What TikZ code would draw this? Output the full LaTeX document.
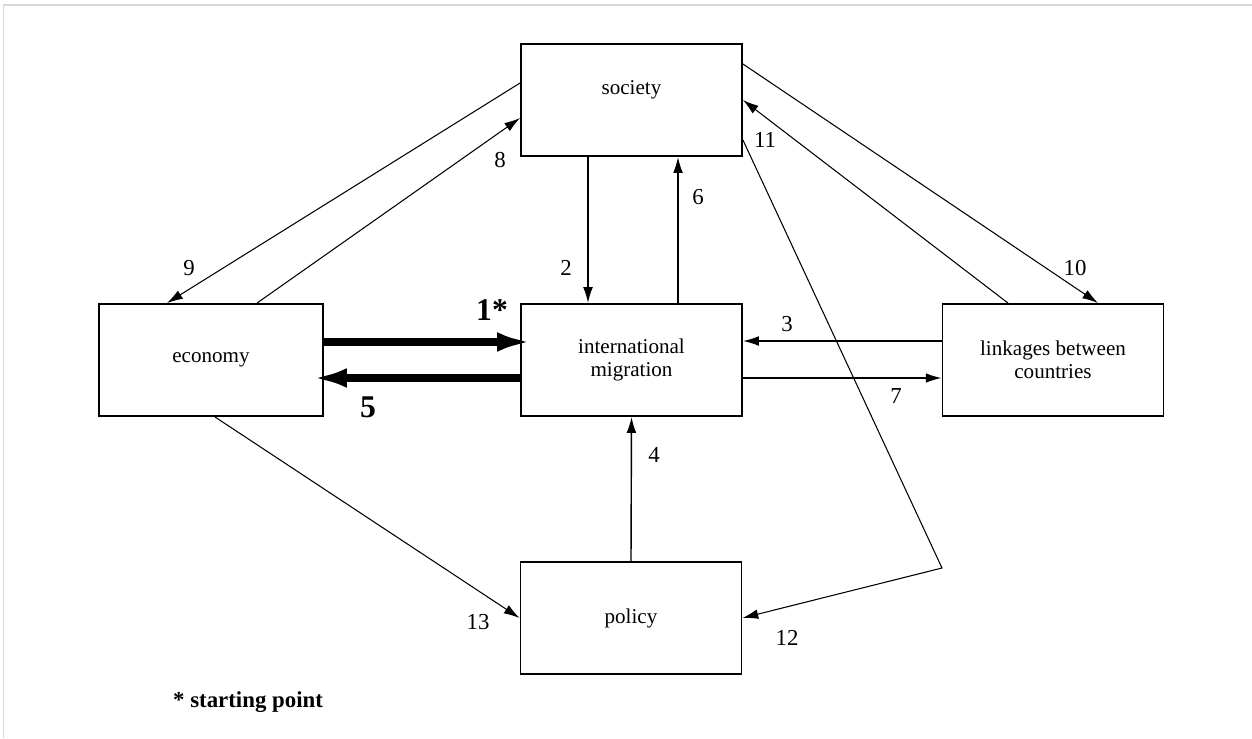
\documentclass[tikz,border=0pt]{standalone}
\usepackage{fontspec}
\setmainfont{Liberation Serif}
\usetikzlibrary{arrows.meta,calc}
\definecolor{framegray}{RGB}{216,216,216}
\tikzset{
  box/.style={draw, line width=1.1pt, minimum width=4.42cm, minimum height=2.24cm,
    align=center, font=\fontsize{12}{13}\selectfont},
  flow/.style={line width=0.6pt, -{Latex[length=9pt,width=5.5pt]}},
  mainflow/.style={line width=0.8pt, -{Latex[length=9pt,width=5.5pt]}},
  bigflow/.style={line width=5pt, -{Latex[length=20pt,width=11pt]}, shorten >=-7pt},
  num/.style={font=\fontsize{13}{15}\selectfont},
  bignum/.style={font=\fontsize{18}{20}\selectfont\bfseries}
}
\begin{document}
\begin{tikzpicture}[x=0.02cm, y=-0.02cm]
	% Page and frame
	\fill[white] (0,0) rectangle (1252,738);
	\useasboundingbox (0,0) rectangle (1252,738);
	\draw[framegray, line width=1.1pt] (3.5,738) -- (3.5,5) -- (1252,5);
	% Boxes
	\node[box] (soc) at (631.5,100) {\raisebox{3pt}[0pt][0pt]{society}};
	\node[box, minimum width=4.48cm] (eco) at (211,360) {economy};
	\node[box] (mig) at (631.5,360) {international\\migration};
	\node[box] (link) at (1053,360) {linkages between\\countries};
	\node[box] (pol) at (631,618) {policy};
	% Main flows between economy and migration
	\draw[bigflow] ($(eco.east)+(0,-18)$) -- ($(mig.west)+(0,-18)$);
	\draw[bigflow] ($(mig.west)+(0,18)$) -- ($(eco.east)+(0,18)$);
	\node[bignum] (n1) at (492,310) {1*};
	\node[bignum] (n5) at (368,407) {5};
	% Vertical and horizontal flows
	\draw[mainflow] ($(soc.south)+(-43.5,0)$) -- ($(mig.north)+(-43.5,0)$);
	\draw[mainflow] ($(mig.north)+(46.5,0)$) -- ($(soc.south)+(46.5,0)$);
	\draw[mainflow] ($(link.west)+(0,-19)$) -- ($(mig.east)+(0,-19)$);
	\draw[mainflow] ($(mig.east)+(0,18)$) -- ($(link.west)+(0,18)$);
	\draw[mainflow] (pol.north) -- (mig.south);
	\node[num] (n2) at (566,268) {2};
	\node[num] (n6) at (698,197) {6};
	\node[num] (n3) at (787,324) {3};
	\node[num] (n7) at (896,396) {7};
	\node[num] (n4) at (654,455) {4};
	% Diagonal flows
	\draw[flow] ($(eco.north)+(46,0)$) -- ($(soc.west)+(0,18)$);
	\draw[flow] ($(soc.west)+(0,-17)$) -- ($(eco.north)+(-44,0)$);
	\draw[flow] ($(soc.east)+(0,-36)$) -- ($(link.north)+(45,0)$);
	\draw[flow] ($(link.north)+(-45,0)$) -- (soc.east);
	\coordinate (bend) at (942,568);
	\draw[flow] ($(soc.east)+(0,40)$) -- (bend) -- (pol.east);
	\draw[flow] ($(eco.south)+(4,0)$) -- (pol.west);
	\node[num] (n8) at (500,160) {8};
	\node[num] (n9) at (189,268) {9};
	\node[num] (n10) at (1075,268) {10};
	\node[num] (n11) at (765,140) {11};
	\node[num] (n12) at (787,638) {12};
	\node[num] (n13) at (478,622) {13};
	% Note
	\node[font=\fontsize{13}{15}\selectfont\bfseries, anchor=west] (note) at (167,702) {* starting point};
\end{tikzpicture}
\end{document}
